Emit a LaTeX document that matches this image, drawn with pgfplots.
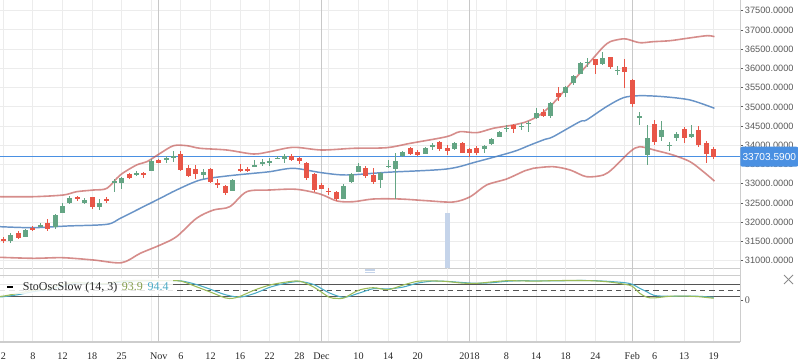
\documentclass[border=0pt]{standalone}
\usepackage{pgfplots}
\pgfplotsset{compat=1.18}
\usepackage{pgfplotstable}
\usepackage{fontspec}
\setmainfont{Liberation Serif}
\newfontfamily\sansf{Liberation Sans}
\definecolor{cgreen}{RGB}{100,165,132}
\definecolor{cred}{RGB}{232,86,72}
\definecolor{bandr}{RGB}{192,80,77}
\definecolor{bandb}{RGB}{79,129,189}
\definecolor{pricec}{RGB}{74,144,226}
\definecolor{gridc}{RGB}{236,236,236}
\definecolor{monthc}{RGB}{200,200,200}
\definecolor{framec}{RGB}{205,205,205}
\definecolor{labc}{RGB}{90,90,90}
\definecolor{xlabc}{RGB}{40,40,40}
\definecolor{stg}{RGB}{155,187,89}
\definecolor{stb}{RGB}{75,172,198}
\definecolor{hoverc}{RGB}{197,212,234}
\definecolor{darkl}{RGB}{85,85,85}

% x o h l c
\pgfplotstableread{
x o h l c
1 31520 31720 31468 31668
3 31624 31832 31616 31798
5 31902 31972 31868 31920
7 31868 32206 31816 32180
8 32248 32492 32232 32422
9 32492 32682 32466 32638
11 32508 32638 32466 32578
13 32404 32596 32318 32492
15 33012 33116 32794 33080
16 33028 33184 32856 33158
18 33254 33340 33210 33280
20 33340 33636 33332 33592
22 33644 33730 33548 33670
23 33688 33852 33574 33714
27 33236 33392 33116 33306
31 32820 33116 32812 33098
34 33462 33618 33444 33480
35 33540 33636 33470 33566
36 33558 33662 33470 33584
37 33652 33722 33644 33670
38 33644 33766 33548 33722
46 32612 32994 32604 32942
47 33038 33288 33028 33254
48 33314 33540 33298 33462
51 33098 33314 32898 33272
52 33444 33618 33418 33462
53 33376 33792 32596 33584
54 33722 33852 33688 33826
57 33782 33964 33774 33930
58 33982 34068 33878 34000
61 33896 34086 33878 34052
65 33896 34008 33808 33982
66 34026 34198 34008 34156
67 34224 34372 34216 34354
68 34432 34528 34354 34458
70 34484 34572 34398 34502
71 34572 34640 34354 34588
72 34702 34962 34684 34832
74 34770 35134 34718 35092
76 35352 35550 35248 35524
77 35628 35836 35560 35810
78 35867 36158 35854 36140
79 36140 36270 36044 36166
81 36119 36426 36080 36278
83 35940 36062 35836 35966
86 34728 34866 34541 34762
87 33761 34528 33501 34190
89 34224 34632 34120 34398
90 33995 34099 33860 34021
91 34198 34354 34125 34294
93 34216 34528 34190 34307
}\uptab

\pgfplotstableread{
x o h l c
0 31564 31608 31468 31512
2 31712 31772 31564 31590
4 31842 31902 31780 31816
6 31972 32076 31780 31824
10 32648 32682 32560 32604
12 32648 32664 32336 32404
14 32596 32664 32492 32570
17 33246 33288 33124 33158
19 33272 33298 33158 33220
21 33626 33644 33532 33540
24 33766 33852 33340 33366
25 33402 33496 33176 33202
26 33384 33480 33116 33262
28 33384 33402 33012 33038
29 33012 33116 32898 32960
30 32950 32968 32716 32768
32 33384 33522 33298 33350
33 33384 33444 33298 33350
39 33714 33774 33592 33626
40 33670 33704 33522 33592
41 33548 33566 33098 33158
42 33254 33272 32794 32846
43 32968 33012 32856 32872
44 32820 32898 32700 32794
45 32786 32804 32560 32604
49 33418 33462 33158 33194
50 33228 33402 32994 33046
55 33922 33948 33740 33774
56 33834 33870 33722 33756
59 34078 34120 33844 33912
60 33930 34000 33756 33860
62 34052 34094 33792 33808
63 33904 33930 33704 33800
64 33922 33982 33756 33808
69 34536 34554 34328 34432
73 34866 34936 34744 34770
75 35368 35524 35152 35256
80 36231 36249 35846 36075
82 36283 36296 35992 36044
84 36044 36244 35498 35914
85 35698 35719 35004 35074
88 34554 34658 34021 34094
92 34437 34484 34052 34190
94 34398 34502 33964 34008
95 34060 34112 33548 33782
96 33904 33964 33652 33703.59
}\downtab

\begin{document}
\begin{tikzpicture}
\useasboundingbox (0,0) rectangle (598.5pt,-272.25pt);
\begin{axis}[
  at={(0pt,0pt)}, anchor=north west, scale only axis,
  width=555pt, height=201pt,
  xmin=-0.45, xmax=99.55, ymin=30810, ymax=37778,
  axis x line*=bottom, axis y line*=right,
  axis line style={draw=framec, line width=0.75pt},
  xtick={0,4,...,96}, xticklabels={}, xtick style={draw=none},
  extra x ticks={21,43,63,85}, extra x tick labels={},
  extra x tick style={xtick style={draw=none}, grid=major, major grid style={draw=monthc, line width=0.9pt}},
  ytick={31000,31500,...,37500},
  scaled y ticks=false,
  tick align=outside, major tick length=2.5pt,
  ytick style={draw=labc, line width=0.6pt},
  grid=major, major grid style={draw=gridc, line width=0.75pt},
  yticklabel style={font=\sansf\fontsize{6.9}{8}\selectfont, text=labc, anchor=west, inner sep=0pt, xshift=1pt,
    /pgf/number format/fixed, /pgf/number format/fixed zerofill, /pgf/number format/precision=4, /pgf/number format/1000 sep={}},
  /pgf/number format/assume math mode=true,
]
% hover bar
\addplot[ybar, bar width=3.75pt, fill=hoverc, draw=none] coordinates {(60,32240)};
% price line
\addplot[pricec, line width=0.9pt] coordinates {(-0.45,33703.59) (99.55,33703.59)};
% Bollinger bands
\addplot[bandr, draw opacity=0.65, line width=1.2pt, smooth] coordinates {
(-0.45,32664) (4.05,32664) (8.1,32708) (9.9,32794) (12.2,32838) (14.0,32882) (15.8,33228) (18.0,33488) (19.4,33574) (21.2,33792) (23.0,33990) (24.8,33990) (26.6,33922) (30.2,33878) (33.8,33774) (36.0,33834) (39.2,33948) (43.0,33878) (47.3,33922) (51.8,33938) (55.0,34052) (59.9,34224) (61.7,34354) (64.0,34328) (66.2,34442) (68.9,34528) (70.7,34614) (72.5,34788) (74.3,35092) (76.1,35482) (77.9,35872) (79.7,36262) (81.1,36564) (82.0,36694) (83.3,36756) (84.2,36764) (86.0,36668) (87.8,36694) (90.1,36720) (92.4,36782) (95.1,36850) (96.1,36824)};
\addplot[bandb, draw opacity=0.85, line width=1.1pt, smooth] coordinates {
(-0.45,31884) (4.05,31858) (8.6,31902) (14.0,31946) (15.8,32102) (18.5,32362) (21.2,32622) (23.4,32838) (26.6,33098) (30.2,33202) (33.8,33272) (36.0,33314) (39.2,33402) (43.0,33288) (46.4,33228) (51.8,33298) (59.9,33384) (64.0,33574) (68.9,33834) (71.2,34008) (73.2,34156) (74.3,34224) (77.9,34614) (78.8,34658) (81.5,35004) (83.8,35238) (86.0,35290) (89.2,35264) (92.8,35178) (96.1,34962)};
\addplot[bandr, draw opacity=0.65, line width=1.2pt, smooth] coordinates {
(-0.45,31088) (4.05,31062) (8.0,31078) (12.2,31018) (16.0,30948) (18.5,31192) (21.2,31408) (23.4,31624) (26.1,32102) (28.4,32318) (30.6,32404) (32.9,32794) (36.0,32838) (39.6,32856) (42.8,32734) (45.1,32552) (47.3,32534) (50.0,32604) (53.6,32604) (57.2,32560) (60.8,32526) (63.1,32664) (65.3,32968) (68.0,33124) (70.5,33340) (71.6,33402) (74.3,33444) (76.6,33358) (78.8,33184) (81.1,33228) (82.4,33402) (84.7,33834) (86.0,33964) (88.3,33860) (90.5,33748) (92.8,33574) (94.6,33314) (96.1,33070)};
% candles: wicks
\addplot[draw=none, mark=none, error bars/.cd, y dir=both, y explicit, error mark=none,
  error bar style={line width=0.75pt, draw=cgreen}]
  table[x=x, y expr={(\thisrow{h}+\thisrow{l})/2}, y error expr={(\thisrow{h}-\thisrow{l})/2}] {\uptab};
\addplot[draw=none, mark=none, error bars/.cd, y dir=both, y explicit, error mark=none,
  error bar style={line width=0.75pt, draw=cred}]
  table[x=x, y expr={(\thisrow{h}+\thisrow{l})/2}, y error expr={(\thisrow{h}-\thisrow{l})/2}] {\downtab};
% candles: bodies
\addplot[draw=none, mark=none, error bars/.cd, y dir=both, y explicit, error mark=none,
  error bar style={line width=3.75pt, draw=cgreen}]
  table[x=x, y expr={(\thisrow{o}+\thisrow{c})/2}, y error expr={max(abs(\thisrow{c}-\thisrow{o})/2,13)}] {\uptab};
\addplot[draw=none, mark=none, error bars/.cd, y dir=both, y explicit, error mark=none,
  error bar style={line width=3.75pt, draw=cred}]
  table[x=x, y expr={(\thisrow{o}+\thisrow{c})/2}, y error expr={max(abs(\thisrow{c}-\thisrow{o})/2,13)}] {\downtab};
\end{axis}

\begin{axis}[
  at={(0pt,-201pt)}, anchor=north west, scale only axis,
  width=555pt, height=55.5pt,
  xmin=-0.45, xmax=99.55, ymin=-208.5, ymax=161.5,
  axis x line*=bottom, axis y line*=right,
  axis line style={draw=framec, line width=0.75pt},
  xtick={0,4,...,96},
  xticklabels={2,8,12,18,25,{},6,12,16,22,28,{},10,14,20,{},{},8,14,18,24,{},6,13,19},
  xtick style={draw=none},
  extra x ticks={21,43,63,85}, extra x tick labels={Nov,Dec,2018,Feb},
  extra x tick style={xtick style={draw=none}, grid=major, major grid style={draw=monthc, line width=0.9pt}},
  xmajorgrids, major grid style={draw=gridc, line width=0.75pt},
  xticklabel style={font=\fontsize{7.6}{9}\selectfont, text=xlabc, yshift=-2pt},
  ytick={0}, tick align=outside, major tick length=2.5pt,
  ytick style={draw=labc, line width=0.6pt},
  yticklabel style={font=\fontsize{7.6}{9}\selectfont, text=labc, anchor=west, inner sep=0pt, xshift=1pt},
  /pgf/number format/assume math mode=true,
]
\addplot[framec, line width=0.75pt] coordinates {(-0.45,126.5) (99.55,126.5)};
\addplot[darkl, line width=0.75pt] coordinates {(-0.45,80) (99.55,80)};
\addplot[darkl, line width=0.75pt] coordinates {(-0.45,20) (99.55,20)};
\addplot[darkl, line width=0.75pt, dash pattern=on 4pt off 3pt] coordinates {(-0.45,50) (99.55,50)};
\addplot[stb, line width=0.8pt, smooth] coordinates {
(-0.45,18) (0,18) (2,28) (4,43) (6,53) (8,70) (10,86) (12,85) (14,82) (16,92) (18,97) (20,98) (22,98) (24,97) (26,80) (28,55) (30,28) (32,16) (34,35) (36,65) (38,84) (40,94) (42,78) (44,38) (46,15) (48,35) (50,58) (52,57) (54,66) (56,86) (58,96) (60,94.4) (62,89) (64,85) (66,88) (68,95) (70,98) (72,97) (74,97) (76,98) (78,99) (80,98) (82,94) (84,88) (85,80) (86,60) (87,42) (88,24) (90,20) (92,21) (94,20) (96,15)};
\addplot[stg, line width=0.8pt, smooth] coordinates {
(-0.45,20) (0,21) (2,35) (4,50) (6,58) (8,80) (10,90) (12,82) (14,84) (16,97) (18,99) (20,99) (22,98) (24,96) (26,69) (28,41) (30,12) (31,10) (32,20) (34,52) (36,76) (38,90) (40,96) (42,65) (44,16) (45,10) (46,11) (48,50) (50,63) (52,53) (54,76) (56,95) (58,97) (60,93.9) (62,86) (64,85) (66,92) (68,98) (70,97) (72,96) (74,98) (76,99) (78,99) (80,97) (82,91) (84,80) (85,70) (86,35) (87,15) (88,12) (90,20) (92,21) (94,18) (96,10)};
\end{axis}

% legend of oscillator pane
\fill[white, fill opacity=0.85] (0pt,-208.5pt) rectangle (129.75pt,-220.5pt);
\draw[black, line width=1.5pt] (5.25pt,-215.25pt) -- (9.75pt,-215.25pt);
\node[anchor=base west, inner sep=0pt, font=\fontsize{9}{10}\selectfont] at (17pt,-217.5pt)
  {\textcolor{xlabc}{StoOscSlow (14, 3)}\hspace{3.5pt}\textcolor{stg!85!black}{93.9}\hspace{3.5pt}\textcolor{stb}{94.4}};
% price tag
\node[fill=pricec, text=white, rounded corners=1.5pt, anchor=west, minimum width=43.5pt, minimum height=15pt,
  inner sep=0pt, font=\sansf\fontsize{7.6}{9}\selectfont] at (555pt,-117.5pt) {33703.5900};
% splitter handle
\foreach \yy in {269,270.7,272.4} \draw[hoverc, line width=0.5pt] (273.75pt,-\yy*0.75pt) -- (281.25pt,-\yy*0.75pt);
% close cross
\draw[labc!70, line width=0.6pt] (588pt,-206.25pt) -- (594.75pt,-213pt);
\draw[labc!70, line width=0.6pt] (588pt,-213pt) -- (594.75pt,-206.25pt);
\end{tikzpicture}
\end{document}
